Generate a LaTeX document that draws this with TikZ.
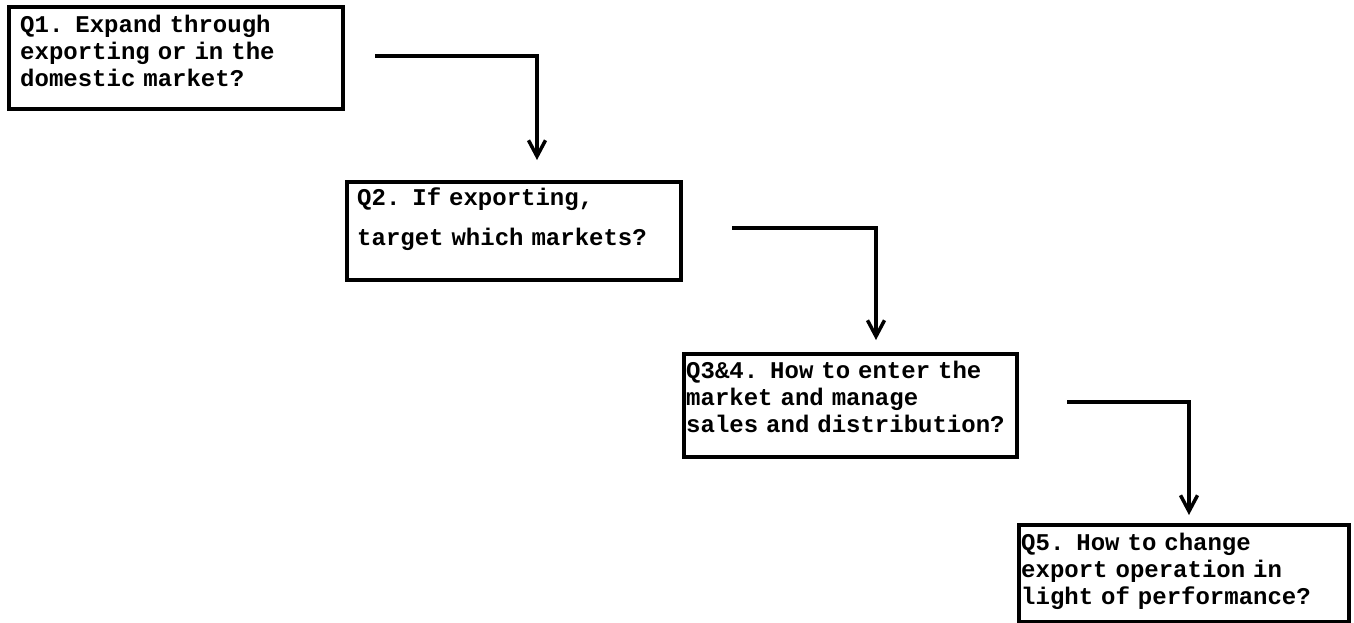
\documentclass[tikz,border=0pt]{standalone}
\usepackage{fontspec}
\newfontfamily\boxfont{Liberation Mono}
\usetikzlibrary{arrows.meta}
\newcommand\qfont[1]{\boxfont\bfseries\fontsize{24}{#1}\selectfont\spaceskip=14.4pt\relax}
\begin{document}
\begin{tikzpicture}[x=1pt,y=-1pt,
  qbox/.style={draw, line width=4pt, inner sep=0pt, anchor=north west},
  qtext/.style={anchor=base west, inner sep=0pt, align=left, text width=335pt,
     font=\qfont{27}},
  conn/.style={line width=3.5pt, -{Straight Barb[length=16pt,width=17pt]}}]
\useasboundingbox (0,0) rectangle (1354,623);
% boxes
\node[qbox, minimum width=334pt, minimum height=102pt] (q1) at (7,5) {};
\node[qbox, minimum width=334pt, minimum height=98pt] (q2) at (345,180) {};
\node[qbox, minimum width=333pt, minimum height=103pt] (q3) at (682,352) {};
\node[qbox, minimum width=330pt, minimum height=97pt] (q5) at (1017,523) {};
% texts
\node[qtext] (t1) at (20,33) {Q1. Expand through\\exporting or in the\\domestic market?};
\node[qtext, font=\qfont{40}] (t2) at (357,205) {Q2. If exporting,\\target which markets?};
\node[qtext] (t3) at (686,378) {Q3\&4. How to enter the\\market and manage\\sales and distribution?};
\node[qtext] (t5) at (1021,550) {Q5. How to change\\export operation in\\light of performance?};
% connectors
\coordinate (a1s) at (375,56);
\coordinate (a1e) at (537,160);
\coordinate (a2s) at (732,228);
\coordinate (a2e) at (876,340);
\coordinate (a3s) at (1067,402);
\coordinate (a3e) at (1189,515);
\draw[conn] (a1s) -| (a1e);
\draw[conn] (a2s) -| (a2e);
\draw[conn] (a3s) -| (a3e);
\end{tikzpicture}
\end{document}
